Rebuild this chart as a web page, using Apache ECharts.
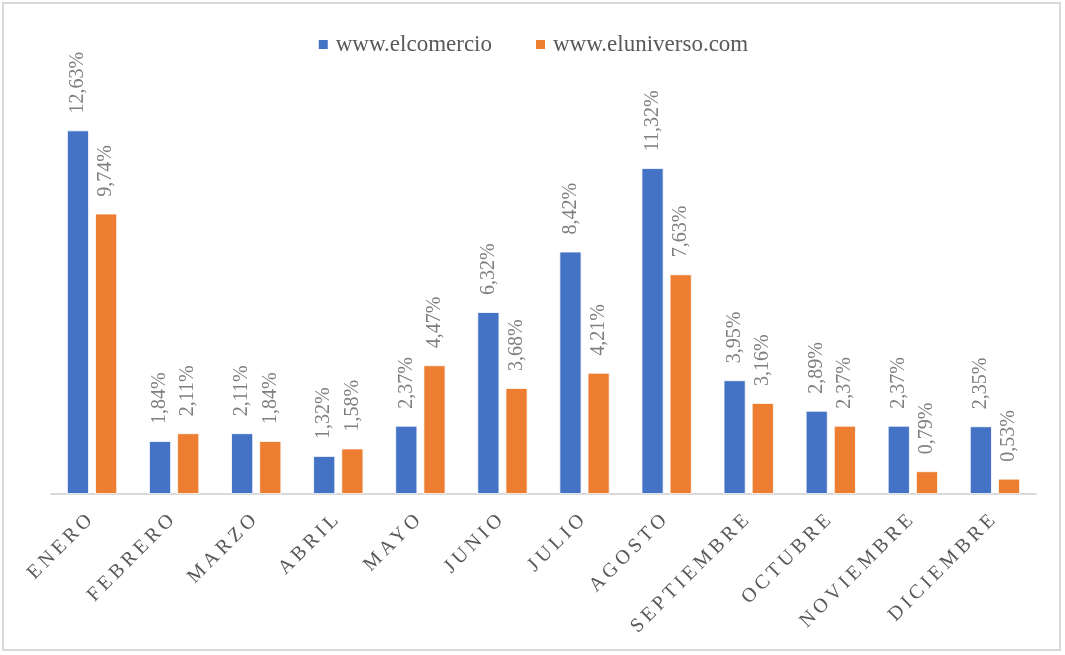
<!DOCTYPE html>
<html>
<head>
<meta charset="utf-8">
<script src="https://cdn.jsdelivr.net/npm/echarts@6/dist/echarts.min.js"></script>
<style>
html,body{margin:0;padding:0;background:#fff;}
#wrap{position:absolute;left:2px;top:2px;width:1059px;height:649px;border:2px solid #d9d9d9;box-sizing:border-box;}
#c{position:absolute;left:0;top:0;width:1065px;height:655px;}
</style>
</head>
<body>
<div id="wrap"></div>
<div id="c"></div>
<script>
const categories = ['ENERO','FEBRERO','MARZO','ABRIL','MAYO','JUNIO','JULIO','AGOSTO','SEPTIEMBRE','OCTUBRE','NOVIEMBRE','DICIEMBRE'];
const seriesNames = ['www.elcomercio','www.eluniverso.com'];
const elcomercio = [12.63,1.84,2.11,1.32,2.37,6.32,8.42,11.32,3.95,2.89,2.37,2.35];
const eluniverso = [9.74,2.11,1.84,1.58,4.47,3.68,4.21,7.63,3.16,2.37,0.79,0.53];
const colors = ['#4472C4','#ED7D31'];
const FONT = '"Liberation Serif","Times New Roman",serif';

// widen the letter spacing of the month labels only, as in the original
(function(){
  const proto = CanvasRenderingContext2D.prototype;
  const orig = proto.fillText;
  proto.fillText = function(t, x, y, m){
    const spaced = categories.indexOf(String(t)) >= 0 && ('letterSpacing' in this);
    if (spaced) {
      this.save();
      this.letterSpacing = '4px';
    }
    if (m === undefined) orig.call(this, t, x, y); else orig.call(this, t, x, y, m);
    if (spaced) {
      this.restore();
    }
  };
})();

const chart = echarts.init(document.getElementById('c'));
function lbl(){
  return {
    show:true, position:'top', rotate:90, align:'left', verticalAlign:'middle', distance:17,
    color:'#7f7f7f', fontFamily:FONT, fontSize:20,
    formatter: p => p.value.toFixed(2).replace('.', ',') + '%'
  };
}
chart.setOption({
  animation:false,
  color:colors,
  legend:{
    top:28, left:'center', itemWidth:11, itemHeight:11, itemGap:42,
    icon:'rect',
    textStyle:{fontFamily:FONT, fontSize:23, color:'#595959', padding:[0,0,0,2]},
    data:seriesNames
  },
  grid:{left:51, right:29, top:91, bottom:161, containLabel:false},
  xAxis:{
    type:'category', data:categories,
    axisLine:{lineStyle:{color:'#d9d9d9', width:2}},
    axisTick:{show:false},
    axisLabel:{rotate:45, interval:0, margin:21, color:'#595959', fontFamily:FONT, fontSize:20}
  },
  yAxis:{type:'value', min:0, max:14, show:false, splitLine:{show:false}},
  series:[
    {name:seriesNames[0], type:'bar', data:elcomercio, barWidth:22, barGap:'28%',
     itemStyle:{borderColor:'#ffffff', borderWidth:0.8}, label:lbl()},
    {name:seriesNames[1], type:'bar', data:eluniverso, barWidth:22, barGap:'28%',
     itemStyle:{borderColor:'#ffffff', borderWidth:0.8}, label:lbl()}
  ]
});
</script>
</body>
</html>
